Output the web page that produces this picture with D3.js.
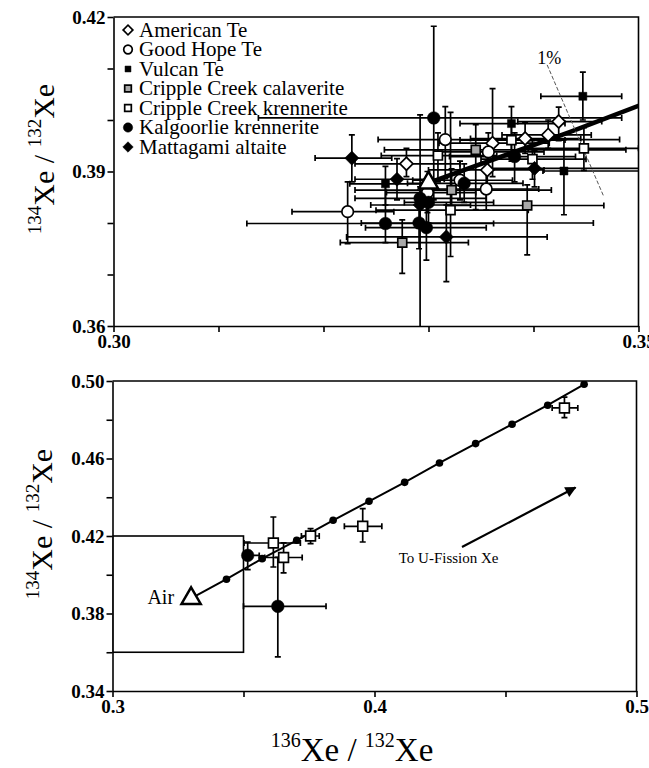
<!DOCTYPE html>
<html>
<head>
<meta charset="utf-8">
<script src="https://cdn.jsdelivr.net/npm/d3@7/dist/d3.min.js"></script>
<style>
body { margin: 0; background: #fff; }
svg { display: block; }
svg text { font-family: "Liberation Serif", "DejaVu Serif", serif; fill: #000; }
.axis path, .axis line { stroke: #000; stroke-width: 1.6; }
</style>
</head>
<body>
<svg id="canvas" width="649" height="768"></svg>
<script>
// ************************************************************************************** //
// Data  -- each point: [x, y, xLow, xHigh, yLow, yHigh]  (136Xe/132Xe, 134Xe/132Xe)

var series_names = ["American Te", "Good Hope Te", "Vulcan Te", "Cripple Creek calaverite",
                    "Cripple Creek krennerite", "Kalgoorlie krennerite", "Mattagami altaite"];

var american_te = [
  [0.3279, 0.3915, 0.3230, 0.3330, 0.3890, 0.3945],
  [0.3356, 0.3903, 0.3300, 0.3410, 0.3870, 0.3935],
  [0.3361, 0.3955, 0.3310, 0.3415, 0.3890, 0.4061],
  [0.3392, 0.3964, 0.3340, 0.3445, 0.3935, 0.3995],
  [0.3414, 0.3971, 0.3370, 0.3455, 0.3945, 0.4000],
  [0.3424, 0.3997, 0.3385, 0.3465, 0.3960, 0.4025]
];
var good_hope_te = [
  [0.3223, 0.3822, 0.3170, 0.3267, 0.3760, 0.3880],
  [0.3316, 0.3962, 0.3252, 0.3482, 0.3886, 0.4026],
  [0.3299, 0.3859, 0.3260, 0.3345, 0.3820, 0.3900],
  [0.3330, 0.3883, 0.3285, 0.3380, 0.3845, 0.3920],
  [0.3355, 0.3866, 0.3300, 0.3405, 0.3825, 0.3905],
  [0.3357, 0.3938, 0.3305, 0.3410, 0.3900, 0.3975]
];
var vulcan_te = [
  [0.3447, 0.4046, 0.3407, 0.3484, 0.4000, 0.4093],
  [0.3429, 0.3901, 0.3409, 0.3550, 0.3816, 0.3962],
  [0.3379, 0.3993, 0.3330, 0.3430, 0.3929, 0.4026],
  [0.3259, 0.3876, 0.3225, 0.3295, 0.3835, 0.3910]
];
var cc_calaverite = [
  [0.3394, 0.3834, 0.3317, 0.3467, 0.3738, 0.3874],
  [0.3275, 0.3762, 0.3216, 0.3338, 0.3702, 0.3806],
  [0.3345, 0.3942, 0.3258, 0.3488, 0.3826, 0.3991],
  [0.3322, 0.3864, 0.3230, 0.3417, 0.3820, 0.3905]
];
var cc_krennerite = [
  [0.3321, 0.3825, 0.3250, 0.3395, 0.3735, 0.4015],
  [0.3309, 0.3931, 0.3255, 0.3365, 0.3880, 0.3975],
  [0.3379, 0.3961, 0.3330, 0.3430, 0.3920, 0.3995],
  [0.3399, 0.3924, 0.3350, 0.3450, 0.3885, 0.3960],
  [0.3448, 0.3945, 0.3395, 0.3500, 0.3902, 0.3985]
];
var kalgoorlie = [
  [0.3305, 0.4004, 0.3138, 0.3484, 0.3845, 0.4182],
  [0.3259, 0.3799, 0.3127, 0.3362, 0.3762, 0.3877],
  [0.3291, 0.3800, 0.3236, 0.3457, 0.3750, 0.3850],
  [0.3298, 0.3791, 0.3240, 0.3355, 0.3728, 0.3845],
  [0.3292, 0.3848, 0.3230, 0.3355, 0.3580, 0.4010],
  [0.3300, 0.3840, 0.3277, 0.3362, 0.3800, 0.3880],
  [0.3334, 0.3877, 0.3280, 0.3390, 0.3840, 0.3915],
  [0.3382, 0.3929, 0.3320, 0.3440, 0.3880, 0.3975]
];
var mattagami = [
  [0.3227, 0.3926, 0.3192, 0.3265, 0.3880, 0.3971],
  [0.3317, 0.3773, 0.3222, 0.3413, 0.3686, 0.3835],
  [0.3270, 0.3885, 0.3230, 0.3315, 0.3845, 0.3925],
  [0.3401, 0.3906, 0.3358, 0.3550, 0.3870, 0.3940],
  [0.3292, 0.3835, 0.3245, 0.3340, 0.3800, 0.3870]
];

// lower panel samples outside the boxed region
var cc_krennerite_wide = [
  [0.3614, 0.4164, 0.3502, 0.3717, 0.4040, 0.4298],
  [0.3653, 0.4089, 0.3581, 0.3724, 0.4010, 0.4165],
  [0.3756, 0.4200, 0.3721, 0.3789, 0.4161, 0.4238],
  [0.3955, 0.4250, 0.3885, 0.4028, 0.4169, 0.4341],
  [0.4725, 0.4861, 0.4678, 0.4776, 0.4811, 0.4917]
];
var kalgoorlie_wide = [
  [0.3516, 0.4100, 0.3500, 0.3560, 0.4026, 0.4169],
  [0.3631, 0.3837, 0.3500, 0.3815, 0.3576, 0.4090]
];

// air and the air / U-fission mixing line
var air = [0.3300, 0.3878];
var mix_x = [0.3435, 0.3571, 0.3703, 0.3842, 0.3979, 0.4115, 0.4248, 0.4386, 0.4525, 0.4661, 0.4800];
var mix_y = [0.3977, 0.4083, 0.4178, 0.4281, 0.4379, 0.4477, 0.4577, 0.4677, 0.4777, 0.4875, 0.4983];

var one_percent = [[0.3413, 0.4107], [0.3467, 0.3851]];
var fission_arrow = [[0.4334, 0.4143], [0.4767, 0.4450]];
var zoom_box = [0.30, 0.36, 0.35, 0.42];

var top_x_ticks = [0.30, 0.31, 0.32, 0.33, 0.34, 0.35];
var top_y_ticks = [0.36, 0.37, 0.38, 0.39, 0.40, 0.41, 0.42];
var bot_x_ticks = [0.30, 0.35, 0.40, 0.45, 0.50];
var bot_y_ticks = [0.34, 0.36, 0.38, 0.40, 0.42, 0.44, 0.46, 0.48, 0.50];

// ************************************************************************************** //
// Setup

var svg = d3.select('#canvas');
var defs = svg.append('defs');
var serif = '"Liberation Serif", "DejaVu Serif", serif';

var top_x = d3.scaleLinear().domain([0.30, 0.35]).range([113.5, 638.5]);
var top_y = d3.scaleLinear().domain([0.36, 0.42]).range([326, 17]);
var bot_x = d3.scaleLinear().domain([0.30, 0.50]).range([112.5, 636.5]);
var bot_y = d3.scaleLinear().domain([0.34, 0.50]).range([691, 381]);

var mix_pts = [air].concat(mix_x.map((d, i) => [d, mix_y[i]]));

var styles = {
  "American Te":              { type: 'diamond', fill: '#fff',  size: 85 },
  "Good Hope Te":             { type: 'circle',  fill: '#fff',  size: 105 },
  "Vulcan Te":                { type: 'square',  fill: '#000',  size: 64 },
  "Cripple Creek calaverite": { type: 'square',  fill: '#a8a8a8', size: 80 },
  "Cripple Creek krennerite": { type: 'square',  fill: '#fff',  size: 80 },
  "Kalgoorlie krennerite":    { type: 'circle',  fill: '#000',  size: 125 },
  "Mattagami altaite":        { type: 'diamond', fill: '#000',  size: 100 }
};
var series_data = [american_te, good_hope_te, vulcan_te, cc_calaverite, cc_krennerite, kalgoorlie, mattagami];

function symbolPath(st, size){
  var t = st.type == 'circle' ? d3.symbolCircle : d3.symbolSquare;
  return d3.symbol().type(t).size(size)();
}

function drawMarker(g, st, x, y, size){
  g.append('path')
    .attr('d', symbolPath(st, size))
    .attr('transform', 'translate(' + x + ',' + y + ')' + (st.type == 'diamond' ? ' rotate(45)' : ''))
    .attr('fill', st.fill)
    .attr('stroke', '#000')
    .attr('stroke-width', st.fill == '#000' ? 0.5 : 1.7);
}

function drawErrorBars(g, data, xs, ys){
  var cap = 3;
  data.forEach(d => {
    var x = xs(d[0]), y = ys(d[1]);
    var x0 = xs(d[2]), x1 = xs(d[3]), y0 = ys(d[4]), y1 = ys(d[5]);
    var p = 'M' + x0 + ',' + y + 'H' + x1 +
            'M' + x0 + ',' + (y - cap) + 'V' + (y + cap) +
            'M' + x1 + ',' + (y - cap) + 'V' + (y + cap) +
            'M' + x + ',' + y0 + 'V' + y1 +
            'M' + (x - cap) + ',' + y0 + 'H' + (x + cap) +
            'M' + (x - cap) + ',' + y1 + 'H' + (x + cap);
    g.append('path').attr('d', p).attr('fill', 'none').attr('stroke', '#000').attr('stroke-width', 1.7);
  });
}

function styleAxis(g){
  g.attr('font-family', serif).attr('font-size', 19).attr('font-weight', 'bold');
  g.selectAll('.tick text').attr('fill', '#000');
}

function ratioTitle(g, top, bottom, size){
  var sup = Math.round(size * 0.62), up = Math.round(size * 0.42);
  var t = g.append('text').attr('text-anchor', 'middle').attr('font-size', size);
  t.append('tspan').attr('font-size', sup).attr('dy', -up).text(top);
  t.append('tspan').attr('dy', up).text('Xe / ');
  t.append('tspan').attr('font-size', sup).attr('dy', -up).text(bottom);
  t.append('tspan').attr('dy', up).text('Xe');
  return t;
}

var line_gen = d3.line();

// ************************************************************************************** //
// Top panel

defs.append('clipPath').attr('id', 'clip_top').append('rect')
  .attr('x', top_x(0.30)).attr('y', top_y(0.42))
  .attr('width', top_x(0.35) - top_x(0.30)).attr('height', top_y(0.36) - top_y(0.42));

var top_g = svg.append('g');

top_g.append('g').attr('class', 'axis').attr('transform', 'translate(0,' + top_y(0.36) + ')')
  .call(d3.axisBottom(top_x).tickValues(top_x_ticks).tickSize(6).tickSizeOuter(0)
    .tickFormat(d => (Math.abs(d - 0.30) < 1e-6 || Math.abs(d - 0.35) < 1e-6) ? d.toFixed(2) : ''))
  .call(styleAxis);
top_g.append('g').attr('class', 'axis').attr('transform', 'translate(' + top_x(0.30) + ',0)')
  .call(d3.axisLeft(top_y).tickValues(top_y_ticks).tickSize(6).tickSizeOuter(0).tickPadding(2)
    .tickFormat(d => [0.36, 0.39, 0.42].some(v => Math.abs(v - d) < 1e-6) ? d.toFixed(2) : ''))
  .call(styleAxis);

top_g.append('path')
  .attr('d', 'M' + top_x(0.30) + ',' + top_y(0.42) + 'H' + top_x(0.35) + 'V' + top_y(0.36))
  .attr('fill', 'none').attr('stroke', '#000').attr('stroke-width', 1.6);

var top_plot = top_g.append('g').attr('clip-path', 'url(#clip_top)');

series_data.forEach(data => drawErrorBars(top_plot, data, top_x, top_y));

top_plot.append('path')
  .attr('d', line_gen(mix_pts.map(d => [top_x(d[0]), top_y(d[1])])))
  .attr('fill', 'none').attr('stroke', '#000').attr('stroke-width', 4.5);

top_plot.append('path')
  .attr('d', line_gen(one_percent.map(d => [top_x(d[0]), top_y(d[1])])))
  .attr('fill', 'none').attr('stroke', '#555').attr('stroke-width', 1).attr('stroke-dasharray', '4,2');

series_data.forEach((data, i) => {
  var st = styles[series_names[i]];
  data.forEach(d => drawMarker(top_plot, st, top_x(d[0]), top_y(d[1]), st.size));
});

top_plot.append('path')
  .attr('d', d3.symbol().type(d3.symbolTriangle).size(160)())
  .attr('transform', 'translate(' + top_x(air[0]) + ',' + top_y(air[1]) + ')')
  .attr('fill', '#fff').attr('stroke', '#000').attr('stroke-width', 2.5);

top_g.append('text')
  .attr('x', top_x(0.3415)).attr('y', top_y(0.4109))
  .attr('text-anchor', 'middle').attr('font-size', 18).text('1%');

// legend
var legend = top_g.append('g');
series_names.forEach((name, i) => {
  var y = 30 + i * 19.5;
  var st = styles[name];
  drawMarker(legend, st, 128, y, st.size * 0.55);
  legend.append('text').attr('x', 139).attr('y', y).attr('dy', '0.33em')
    .attr('font-size', 21).text(name);
});

var top_title = svg.append('g').attr('transform', 'translate(54,159) rotate(-90)');
ratioTitle(top_title, '134', '132', 30);

// ************************************************************************************** //
// Bottom panel

defs.append('clipPath').attr('id', 'clip_bot').append('rect')
  .attr('x', bot_x(0.30)).attr('y', bot_y(0.50))
  .attr('width', bot_x(0.50) - bot_x(0.30)).attr('height', bot_y(0.34) - bot_y(0.50));

var bot_g = svg.append('g');

bot_g.append('g').attr('class', 'axis').attr('transform', 'translate(0,' + bot_y(0.34) + ')')
  .call(d3.axisBottom(bot_x).tickValues(bot_x_ticks).tickSize(6).tickSizeOuter(0)
    .tickFormat(d => [0.3, 0.4, 0.5].some(v => Math.abs(v - d) < 1e-6) ? d.toFixed(1) : ''))
  .call(styleAxis);
bot_g.append('g').attr('class', 'axis').attr('transform', 'translate(' + bot_x(0.30) + ',0)')
  .call(d3.axisLeft(bot_y).tickValues(bot_y_ticks).tickSize(6).tickSizeOuter(0).tickPadding(2)
    .tickFormat(d => [0.34, 0.38, 0.42, 0.46, 0.50].some(v => Math.abs(v - d) < 1e-6) ? d.toFixed(2) : ''))
  .call(styleAxis);

bot_g.append('path')
  .attr('d', 'M' + bot_x(0.30) + ',' + bot_y(0.50) + 'H' + bot_x(0.50) + 'V' + bot_y(0.34))
  .attr('fill', 'none').attr('stroke', '#000').attr('stroke-width', 1.6);

var bot_plot = bot_g.append('g').attr('clip-path', 'url(#clip_bot)');

bot_plot.append('rect')
  .attr('x', bot_x(zoom_box[0])).attr('y', bot_y(zoom_box[3]))
  .attr('width', bot_x(zoom_box[2]) - bot_x(zoom_box[0]))
  .attr('height', bot_y(zoom_box[1]) - bot_y(zoom_box[3]))
  .attr('fill', 'none').attr('stroke', '#000').attr('stroke-width', 1.6);

drawErrorBars(bot_plot, cc_krennerite_wide, bot_x, bot_y);
drawErrorBars(bot_plot, kalgoorlie_wide, bot_x, bot_y);

bot_plot.append('path')
  .attr('d', line_gen(mix_pts.map(d => [bot_x(d[0]), bot_y(d[1])])))
  .attr('fill', 'none').attr('stroke', '#000').attr('stroke-width', 2);

mix_x.forEach((d, i) => {
  bot_plot.append('circle').attr('cx', bot_x(d)).attr('cy', bot_y(mix_y[i])).attr('r', 3.8).attr('fill', '#000');
});

cc_krennerite_wide.forEach(d => drawMarker(bot_plot, styles["Cripple Creek krennerite"], bot_x(d[0]), bot_y(d[1]), 95));
kalgoorlie_wide.forEach(d => drawMarker(bot_plot, styles["Kalgoorlie krennerite"], bot_x(d[0]), bot_y(d[1]), 125));

bot_plot.append('path')
  .attr('d', d3.symbol().type(d3.symbolTriangle).size(160)())
  .attr('transform', 'translate(' + bot_x(air[0]) + ',' + bot_y(air[1]) + ')')
  .attr('fill', '#fff').attr('stroke', '#000').attr('stroke-width', 2.5);

bot_g.append('text')
  .attr('x', bot_x(air[0]) - 17).attr('y', bot_y(air[1]) + 6)
  .attr('text-anchor', 'end').attr('font-size', 20).text('Air');

// arrow to U-fission
defs.append('marker').attr('id', 'arrow_head')
  .attr('viewBox', '0 0 10 10').attr('refX', 9).attr('refY', 5)
  .attr('markerWidth', 6).attr('markerHeight', 5).attr('orient', 'auto')
  .append('path').attr('d', 'M0,0L10,5L0,10z').attr('fill', '#000');

bot_g.append('path')
  .attr('d', line_gen(fission_arrow.map(d => [bot_x(d[0]), bot_y(d[1])])))
  .attr('stroke', '#000').attr('stroke-width', 2.2).attr('fill', 'none')
  .attr('marker-end', 'url(#arrow_head)');

bot_g.append('text')
  .attr('x', bot_x(0.4283)).attr('y', bot_y(0.4088) + 5)
  .attr('text-anchor', 'middle').attr('font-size', 15).text('To U-Fission Xe');

var bot_ytitle = svg.append('g').attr('transform', 'translate(52,524) rotate(-90)');
ratioTitle(bot_ytitle, '134', '132', 30);

var bot_xtitle = svg.append('g').attr('transform', 'translate(352,761)');
ratioTitle(bot_xtitle, '136', '132', 33);
</script>
</body>
</html>
